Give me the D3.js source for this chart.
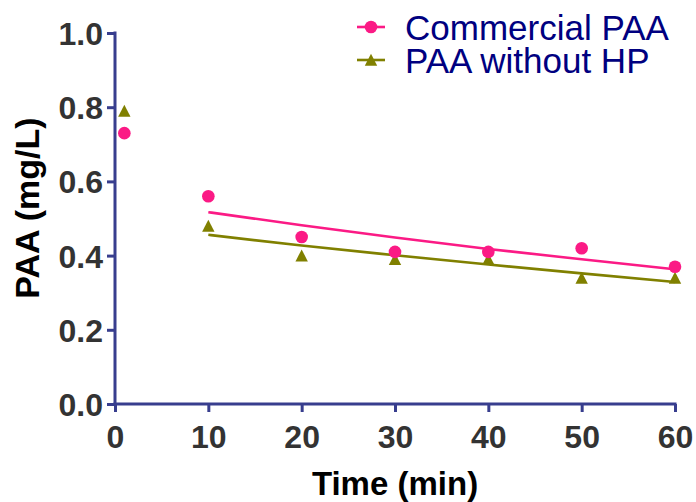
<!DOCTYPE html>
<html>
<head>
<meta charset="utf-8">
<script src="https://cdn.jsdelivr.net/npm/d3@7"></script>
<style>
  html, body { margin: 0; padding: 0; background: #fff; }
  svg { display: block; }
  text { font-family: "Liberation Sans", Arial, sans-serif; }
</style>
</head>
<body>
<svg id="chart" width="696" height="502"></svg>
<script>
// ---- Data ----
const time = [1, 10, 20, 30, 40, 50, 60];
const commercialPAA = [0.73, 0.56, 0.45, 0.41, 0.41, 0.42, 0.37];
const paaWithoutHP = [0.79, 0.48, 0.40, 0.39, 0.39, 0.34, 0.34];
// fitted decay curves (t = 10..60)
const fitTime = [10, 20, 30, 40, 50, 60];
const commercialFit = [0.517, 0.482, 0.449, 0.418, 0.390, 0.363];
const withoutHPFit = [0.456, 0.427, 0.401, 0.376, 0.352, 0.329];
const xTicks = [0, 10, 20, 30, 40, 50, 60];
const yTicks = [0.0, 0.2, 0.4, 0.6, 0.8, 1.0];
const seriesNames = ["Commercial PAA", "PAA without HP"];

// ---- Styles ----
const pink = "#fb1a85";
const olive = "#808000";
const axisColor = "#383e8e";

const svg = d3.select("#chart");
const x = d3.scaleLinear().domain([0, 60]).range([115, 675]);
const y = d3.scaleLinear().domain([0, 1]).range([404, 33]);

// axes
const xAxis = svg.append("g").attr("transform", `translate(0,${y(0)})`)
  .call(d3.axisBottom(x).tickValues(xTicks).tickFormat(d3.format("d"))
    .tickSize(8).tickSizeOuter(0).tickPadding(13));
const yAxis = svg.append("g").attr("transform", `translate(${x(0)},0)`)
  .call(d3.axisLeft(y).tickValues(yTicks).tickFormat(d3.format(".1f"))
    .tickSize(8).tickSizeOuter(0).tickPadding(4));

[xAxis, yAxis].forEach(g => {
  g.select(".domain").attr("stroke", axisColor).attr("stroke-width", 3);
  g.selectAll(".tick line").attr("stroke", axisColor).attr("stroke-width", 3);
  g.selectAll(".tick text").attr("fill", "#333333")
    .attr("font-size", 32).attr("font-weight", "bold")
    .style("font-family", "'Liberation Sans', Arial, sans-serif");
});
yAxis.selectAll(".tick text").attr("dy", "0.36em");
xAxis.select(".domain").attr("d", `M${x(0) - 1.5},0H${x(60) + 1.5}`);
yAxis.select(".domain").attr("d", `M0,${y(1) - 1.5}V${y(0) + 1.5}`);

// axis titles
svg.append("text")
  .attr("x", (x(0) + x(60)) / 2).attr("y", 495)
  .attr("text-anchor", "middle").attr("font-size", 33).attr("font-weight", "bold")
  .attr("fill", "#000").text("Time (min)");
svg.append("text")
  .attr("transform", `translate(39,${208}) rotate(-90)`)
  .attr("text-anchor", "middle").attr("font-size", 34).attr("font-weight", "bold")
  .attr("fill", "#000").text("PAA (mg/L)");

// fit lines
const line = d3.line().x(d => x(d[0])).y(d => y(d[1])).curve(d3.curveMonotoneX);
svg.append("path").datum(fitTime.map((t, i) => [t, commercialFit[i]]))
  .attr("d", line).attr("fill", "none").attr("stroke", pink).attr("stroke-width", 2.6);
svg.append("path").datum(fitTime.map((t, i) => [t, withoutHPFit[i]]))
  .attr("d", line).attr("fill", "none").attr("stroke", olive).attr("stroke-width", 2.6);

// markers
const triPath = "M0,-6.2L6.2,5.8L-6.2,5.8Z";
svg.append("g").selectAll("path")
  .data(time.map((t, i) => [t, paaWithoutHP[i]]))
  .join("path")
  .attr("transform", d => `translate(${x(d[0])},${y(d[1])})`)
  .attr("d", triPath).attr("fill", olive);
svg.append("g").selectAll("circle")
  .data(time.map((t, i) => [t, commercialPAA[i]]))
  .join("circle")
  .attr("cx", d => x(d[0])).attr("cy", d => y(d[1]))
  .attr("r", 6.3).attr("fill", pink);

// legend
const legend = svg.append("g");
const rows = [
  { name: seriesNames[0], color: pink, shape: "circle", yy: 27 },
  { name: seriesNames[1], color: olive, shape: "tri", yy: 60 }
];
rows.forEach(r => {
  legend.append("line").attr("x1", 357).attr("x2", 385).attr("y1", r.yy).attr("y2", r.yy)
    .attr("stroke", r.color).attr("stroke-width", 2.6);
  if (r.shape === "circle") {
    legend.append("circle").attr("cx", 371).attr("cy", r.yy).attr("r", 6.3).attr("fill", r.color);
  } else {
    legend.append("path").attr("transform", `translate(371,${r.yy})`).attr("d", triPath).attr("fill", r.color);
  }
  legend.append("text").attr("x", 405).attr("y", r.yy + 12.5)
    .attr("font-size", 35).attr("fill", "#000080").text(r.name);
});
</script>
</body>
</html>
